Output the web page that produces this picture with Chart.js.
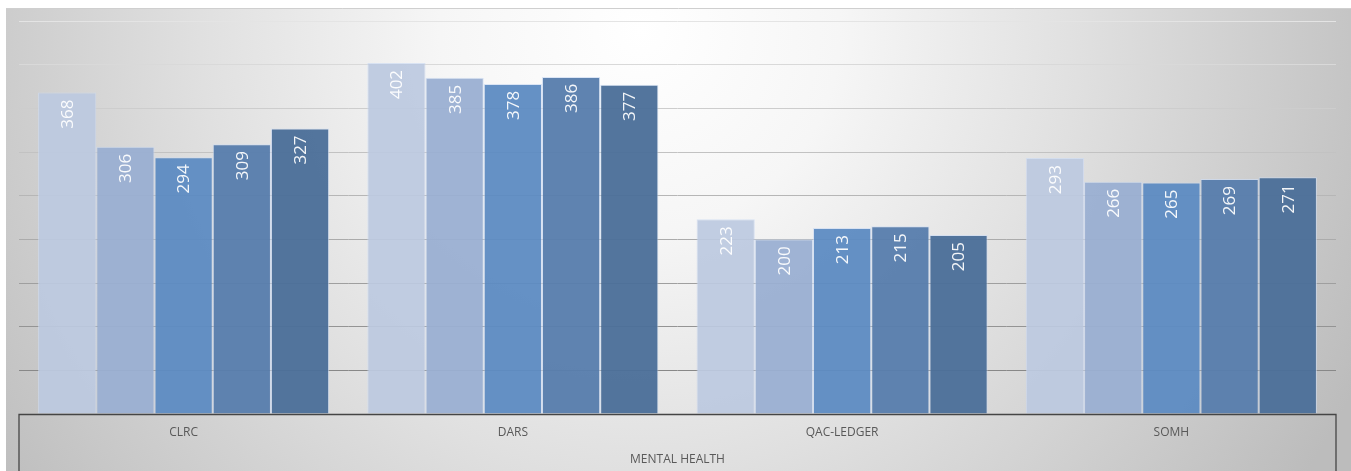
<!DOCTYPE html>
<html>
<head>
<meta charset="utf-8">
<script src="https://cdn.jsdelivr.net/npm/chart.js@4/dist/chart.umd.min.js"></script>
<style>
  html, body { margin: 0; padding: 0; background: #ffffff; }
  #wrap { width: 1351px; height: 471px; position: relative; }
</style>
</head>
<body>
<div id="wrap"><canvas id="c" width="1351" height="471"></canvas></div>
<script>
const categories = ["CLRC", "DARS", "QAC-LEDGER", "SOMH"];
const groupLabel = "MENTAL HEALTH";
const series1 = [368, 402, 223, 293];
const series2 = [306, 385, 200, 266];
const series3 = [294, 378, 213, 265];
const series4 = [309, 386, 215, 269];
const series5 = [327, 377, 205, 271];
const seriesNames = ["Series 1", "Series 2", "Series 3", "Series 4", "Series 5"];
const seriesColors = [
  "rgba(188,201,224,0.93)",
  "rgba(154,175,210,0.95)",
  "rgba(93,139,194,0.95)",
  "rgba(88,126,173,0.96)",
  "rgba(76,111,153,0.96)"
];
const yMax = 450;
const yStep = 50;

const FONT = "'Open Sans', 'Noto Sans', sans-serif";

const bgPlugin = {
  id: 'bg',
  beforeDraw(chart) {
    const ctx = chart.ctx;
    const W = chart.width, H = chart.height;
    ctx.save();
    ctx.fillStyle = '#ffffff';
    ctx.fillRect(0, 0, W, H);
    const g = ctx.createRadialGradient(640, 30, 0, 640, 30, 800);
    g.addColorStop(0, '#ffffff');
    g.addColorStop(0.25, '#f6f6f6');
    g.addColorStop(0.55, '#e0e0e0');
    g.addColorStop(0.8, '#cccccc');
    g.addColorStop(1, '#bcbcbc');
    ctx.fillStyle = g;
    ctx.fillRect(6, 8, W - 6, H - 8);
    ctx.strokeStyle = '#cfcfcf';
    ctx.lineWidth = 1;
    ctx.beginPath();
    ctx.moveTo(6, 8.5);
    ctx.lineTo(W, 8.5);
    ctx.stroke();
    ctx.restore();
  }
};

const axisBoxPlugin = {
  id: 'axisBox',
  afterDatasetsDraw(chart) {
    const ctx = chart.ctx;
    const x = chart.scales.x;
    const area = chart.chartArea;
    ctx.save();
    ctx.strokeStyle = '#454545';
    ctx.lineWidth = 1.3;
    ctx.beginPath();
    ctx.moveTo(area.left, chart.height);
    ctx.lineTo(area.left, area.bottom + 0.5);
    ctx.lineTo(area.right, area.bottom + 0.5);
    ctx.lineTo(area.right, chart.height);
    ctx.stroke();
    ctx.fillStyle = '#595959';
    ctx.font = "12px " + FONT;
    ctx.textAlign = 'center';
    ctx.textBaseline = 'middle';
    categories.forEach((c, i) => {
      ctx.fillText(c, x.getPixelForValue(i), area.bottom + 19);
    });
    ctx.fillText(groupLabel, (area.left + area.right) / 2, area.bottom + 46);
    ctx.restore();
  }
};

const labelPlugin = {
  id: 'vlabels',
  afterDatasetsDraw(chart) {
    const ctx = chart.ctx;
    ctx.save();
    ctx.fillStyle = 'rgba(255,255,255,0.93)';
    ctx.font = "17px " + FONT;
    ctx.textAlign = 'right';
    ctx.textBaseline = 'middle';
    chart.data.datasets.forEach((ds, di) => {
      const meta = chart.getDatasetMeta(di);
      meta.data.forEach((bar, i) => {
        ctx.save();
        ctx.translate(bar.x + 1, bar.y + 7);
        ctx.rotate(-Math.PI / 2);
        ctx.fillText(String(ds.data[i]), 0, 0);
        ctx.restore();
      });
    });
    ctx.restore();
  }
};

const allSeries = [series1, series2, series3, series4, series5];

new Chart(document.getElementById('c'), {
  type: 'bar',
  data: {
    labels: categories,
    datasets: allSeries.map((d, i) => ({
      label: seriesNames[i],
      data: d,
      backgroundColor: seriesColors[i],
      borderColor: 'rgba(205,220,242,0.7)',
      borderWidth: 1,
      borderSkipped: 'start',
      categoryPercentage: 0.884,
      barPercentage: 1.0
    }))
  },
  options: {
    responsive: false,
    animation: false,
    events: [],
    layout: { padding: { left: 19, right: 15, top: 21, bottom: 57 } },
    plugins: {
      legend: { display: false },
      tooltip: { enabled: false },
      title: { display: false }
    },
    scales: {
      x: {
        display: true,
        grid: { display: false },
        border: { display: false },
        ticks: { display: false },
        afterFit(s) { s.height = 0; }
      },
      y: {
        display: true,
        min: 0,
        max: yMax,
        ticks: { display: false, stepSize: yStep },
        border: { display: false },
        grid: {
          drawTicks: false,
          lineWidth: 1,
          color(ctx) {
            const v = ctx.tick ? ctx.tick.value : 0;
            if (v === 0) return 'rgba(0,0,0,0)';
            const t = v / yMax; // 1 at top
            const c = Math.round(125 + (228 - 125) * t);
            return `rgb(${c},${c},${c})`;
          }
        },
        afterFit(s) { s.width = 0; }
      }
    }
  },
  plugins: [bgPlugin, axisBoxPlugin, labelPlugin]
});
</script>
</body>
</html>
